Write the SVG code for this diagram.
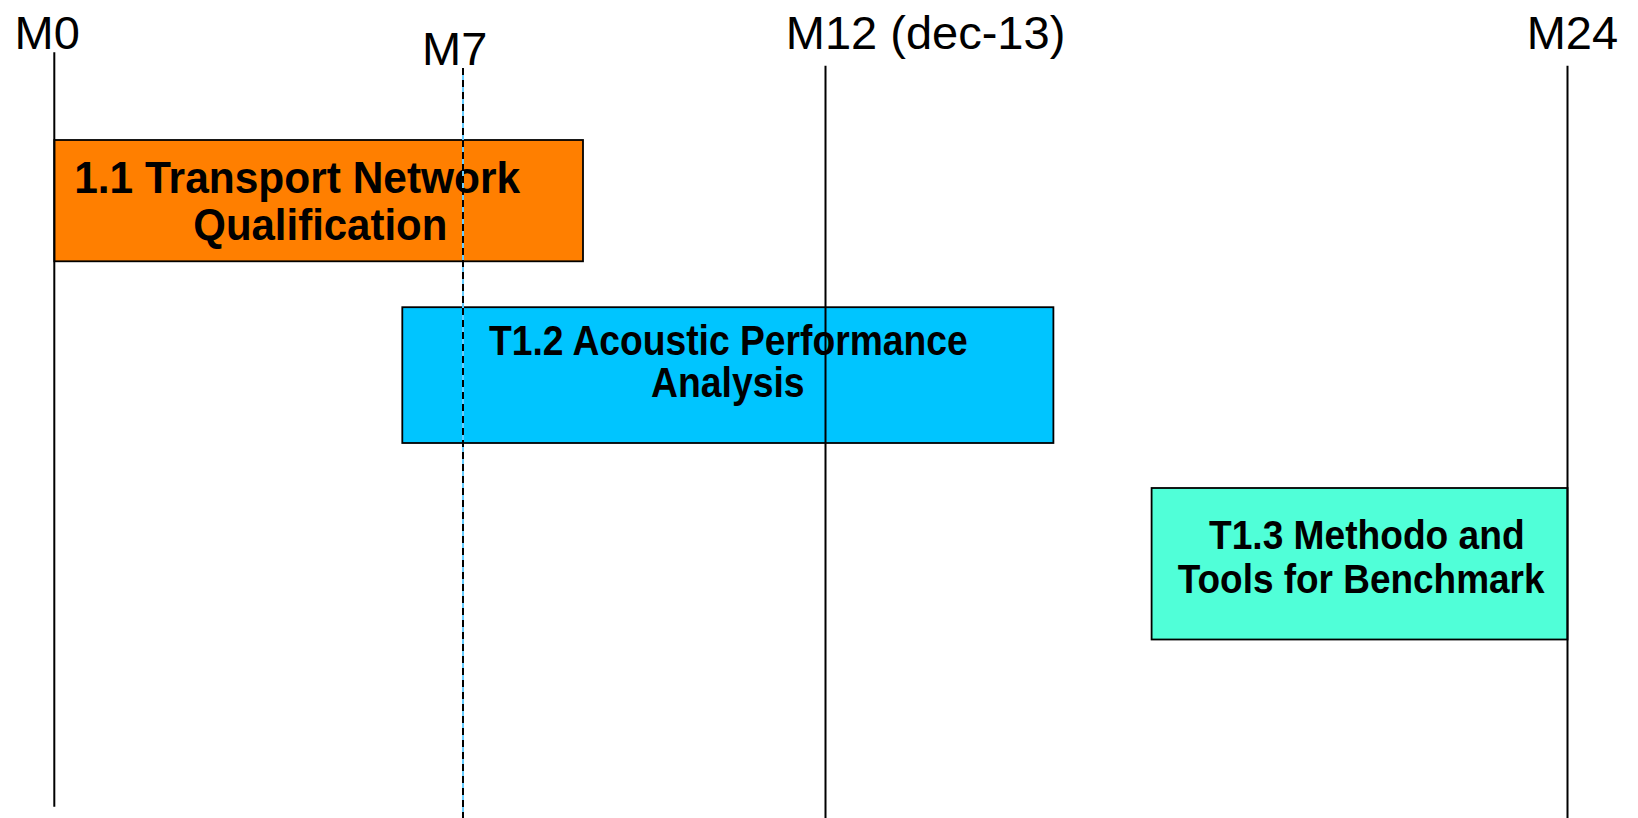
<svg xmlns="http://www.w3.org/2000/svg" width="1638" height="818" viewBox="0 0 1638 818">
<style>
.lbl{font-family:"Liberation Sans",Arial,sans-serif;font-size:47px;fill:#000}
.tt{font-family:"Liberation Sans",Arial,sans-serif;font-weight:bold;fill:#000}
.box{stroke:#000;stroke-width:1.8}
.axis{stroke:#000;stroke-width:2;fill:none}
</style>
<rect width="1638" height="818" fill="#fff"/>
<g id="task11">
<rect class="box" x="54.3" y="140" width="528.7" height="121.3" fill="#FF7F00"/>
<text class="tt" font-size="44" x="74.2" y="193.3" textLength="446" lengthAdjust="spacingAndGlyphs">1.1 Transport Network</text>
<text class="tt" font-size="44" x="193.3" y="240.4" textLength="254" lengthAdjust="spacingAndGlyphs">Qualification</text>
</g>
<g id="task12">
<rect class="box" x="402.3" y="307.2" width="651.1" height="135.8" fill="#00C5FF"/>
<text class="tt" font-size="42" x="489" y="355.3" textLength="478.6" lengthAdjust="spacingAndGlyphs">T1.2 Acoustic Performance</text>
<text class="tt" font-size="42" x="651" y="397" textLength="153.6" lengthAdjust="spacingAndGlyphs">Analysis</text>
</g>
<g id="task13">
<rect class="box" x="1151.6" y="488" width="415.9" height="151.5" fill="#50FFD8"/>
<text class="tt" font-size="40" x="1209" y="548.6" textLength="315.6" lengthAdjust="spacingAndGlyphs">T1.3 Methodo and</text>
<text class="tt" font-size="40" x="1177.7" y="592.5" textLength="366.8" lengthAdjust="spacingAndGlyphs">Tools for Benchmark</text>
</g>
<g id="connectors">
<line class="axis" x1="54.3" y1="52.3" x2="54.3" y2="806.7"/>
<line x1="463" y1="68" x2="463" y2="818" stroke="#66CCFF" stroke-width="2"/>
<line x1="463" y1="68" x2="463" y2="818" stroke="#000" stroke-width="2" stroke-dasharray="7 5"/>
<line class="axis" x1="825.5" y1="65.8" x2="825.5" y2="818"/>
<line class="axis" x1="1567.5" y1="65.8" x2="1567.5" y2="818"/>
</g>
<g id="milestones">
<text class="lbl" x="14.6" y="49.1">M0</text>
<text class="lbl" x="422" y="64.8">M7</text>
<text class="lbl" x="785.8" y="49.1">M12 (dec-13)</text>
<text class="lbl" x="1526.7" y="49.1">M24</text>
</g>
</svg>
